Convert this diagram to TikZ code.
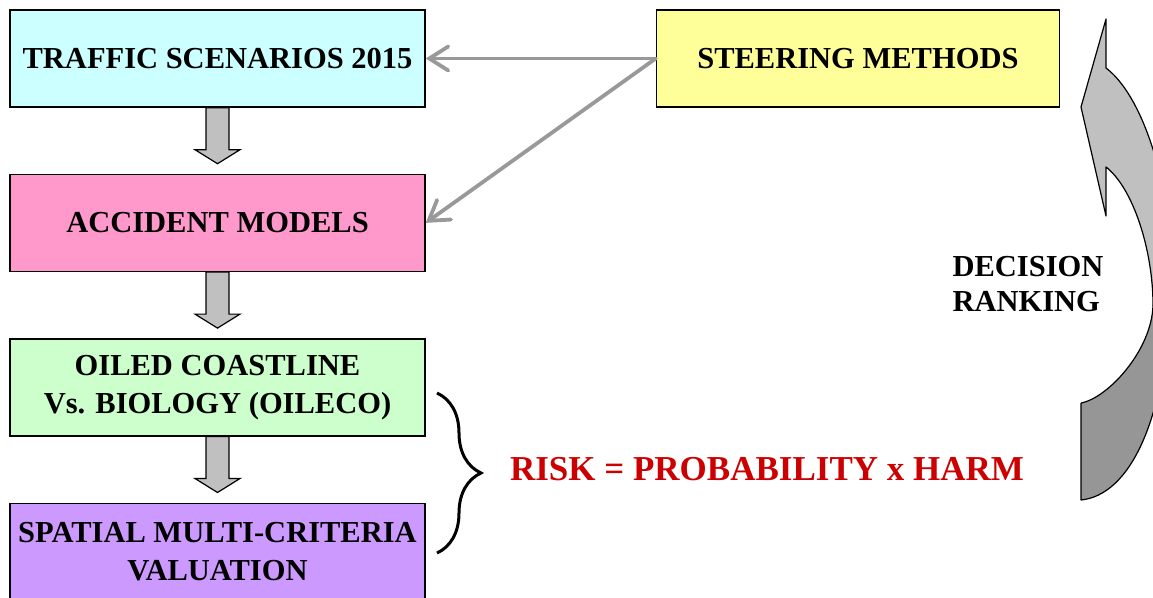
\documentclass[tikz,border=0pt]{standalone}
\usepackage{fontspec}
\setmainfont{Liberation Serif}
\usepackage{tikz}
\usetikzlibrary{arrows.meta,positioning,calc,decorations.pathreplacing}
\definecolor{trafficC}{RGB}{204,255,255}
\definecolor{accidentC}{RGB}{255,153,204}
\definecolor{oilecoC}{RGB}{204,255,204}
\definecolor{valuationC}{RGB}{204,153,255}
\definecolor{steerC}{RGB}{255,255,153}
\definecolor{riskred}{RGB}{204,0,0}
\definecolor{linkgray}{RGB}{153,153,153}
\definecolor{blockgray}{RGB}{192,192,192}
\definecolor{backgray}{RGB}{150,150,150}
\tikzset{
  box/.style={rectangle, minimum width=415pt, minimum height=97pt, inner sep=0pt,
              draw=black, line width=1.4pt, fill=#1, align=center,
              font=\fontsize{30.5}{38}\selectfont\bfseries},
  linkarrow/.style={-{Straight Barb[length=19pt,width=24pt,line cap=round]},
                    line width=3.8pt, draw=linkgray, line cap=round},
  downblock/.style={draw=black, line width=1.2pt, fill=blockgray, line join=miter},
  sidetext/.style={font=\fontsize{30.5}{35}\selectfont\bfseries, align=left},
  turnarrow/.style={draw=black, line width=1.2pt, line join=round},
}

\begin{document}
\begin{tikzpicture}[x=1pt,y=-1pt]
  \useasboundingbox (0,0) rectangle (1153,597);
  % model chain
  \node[box=trafficC] (traffic) at (217.5,58.5) {TRAFFIC SCENARIOS 2015};
  \node[box=accidentC, below=66pt of traffic] (accident) {ACCIDENT MODELS};
  \node[box=oilecoC, below=66pt of accident] (oileco) {OILED COASTLINE\\Vs. BIOLOGY (OILECO)};
  \node[box=valuationC, below=66pt of oileco] (valuation) {SPATIAL MULTI-CRITERIA\\VALUATION};
  \node[box=steerC, minimum width=403pt, right=230pt of traffic] (steer) {STEERING METHODS};
  % block arrows between boxes
  \foreach \a in {traffic,accident,oileco}
    \draw[downblock] (\a.south) ++(-11.5,0) -- ++(0,42) -- ++(-11,0) -- ++(22.5,14)
      -- ++(22.5,-14) -- ++(-11,0) -- ++(0,-42) -- cycle;
  % steering links
  \draw[linkarrow] (steer.west) -- (traffic.east);
  \draw[linkarrow] (steer.west) -- (accident.east);
  % brace and risk formula
  \draw[line width=3pt, decorate, decoration={brace, amplitude=44pt}] (437,393) -- (437,553);
  \node[font=\fontsize{35}{40}\selectfont\bfseries, text=riskred] (risk) at (767,469)
    {RISK = PROBABILITY x HARM};
  % decision ranking loop
  \node[sidetext, anchor=west] (decision) at (949,284) {DECISION\\RANKING};
  \fill[backgray] (1081,403) -- (1081,500) .. controls (1130,495) and (1165,420) .. (1170,300)
    -- (1153,305) .. controls (1152,350) and (1108,398) .. (1081,403) -- cycle;
  \draw[turnarrow] (1081,403) -- (1081,500) .. controls (1130,495) and (1165,420) .. (1170,300);
  \draw[turnarrow] (1153,305) .. controls (1152,350) and (1108,398) .. (1081,403);
  \draw[turnarrow, fill=blockgray] (1106,19) -- (1081,107) -- (1106,216) -- (1106,167)
    .. controls (1133,188) and (1153,250) .. (1153,305) -- (1170,300) -- (1170,230)
    .. controls (1160,150) and (1135,90) .. (1106,68) -- cycle;
\end{tikzpicture}
\end{document}
